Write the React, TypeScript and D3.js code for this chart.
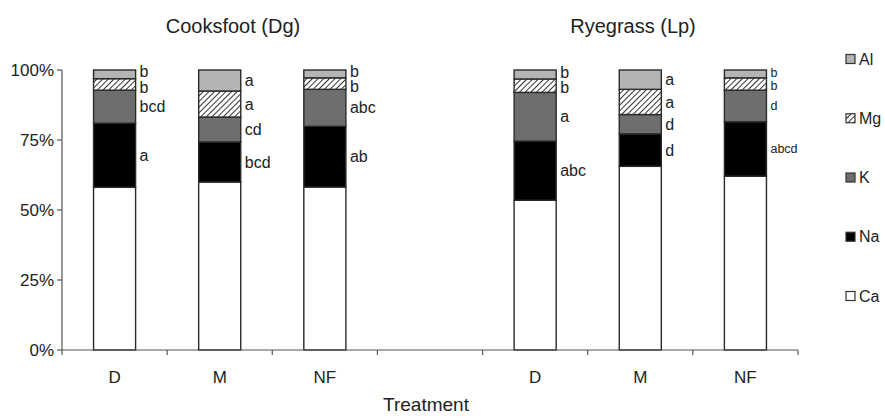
import React from 'react';
import * as d3 from 'd3';

const species = ['Cooksfoot (Dg)', 'Ryegrass (Lp)'];
const treatments = ['D', 'M', 'NF'];
const elements = ['Ca', 'Na', 'K', 'Mg', 'Al'];
const legendOrder = ['Al', 'Mg', 'K', 'Na', 'Ca'];
const yTicks = [0, 25, 50, 75, 100];

// percent of total per bar: Dg D, Dg M, Dg NF, Lp D, Lp M, Lp NF
const caValues = [58.1, 60.0, 58.2, 53.5, 65.6, 62.1];
const naValues = [22.9, 14.3, 21.7, 21.1, 11.6, 19.4];
const kValues = [11.8, 8.9, 13.2, 17.4, 6.9, 11.3];
const mgValues = [4.1, 9.3, 4.1, 4.8, 9.0, 4.4];
const alValues = [3.1, 7.5, 2.8, 3.2, 6.9, 2.8];

const naLetters = ['a', 'bcd', 'ab', 'abc', 'd', 'abcd'];
const kLetters = ['bcd', 'cd', 'abc', 'a', 'd', 'd'];
const mgLetters = ['b', 'a', 'b', 'b', 'a', 'b'];
const alLetters = ['b', 'a', 'b', 'b', 'a', 'b'];

const W = 885;
const H = 418;
const FONT = '"Liberation Sans", Arial, sans-serif';

const fills: Record<string, string> = {
  Ca: '#ffffff',
  Na: '#000000',
  K: '#6e6e6e',
  Mg: 'url(#hatch)',
  Al: '#b4b4b4',
};

export default function App() {
  // slot keys, with one empty slot between the species groups
  const slots = [
    ...treatments.map(t => 'Dg-' + t),
    'gap',
    ...treatments.map(t => 'Lp-' + t),
  ];
  const barKeys = slots.filter(s => s !== 'gap');

  const rows = barKeys.map((key, i) => ({
    key,
    Ca: caValues[i],
    Na: naValues[i],
    K: kValues[i],
    Mg: mgValues[i],
    Al: alValues[i],
    letters: { Na: naLetters[i], K: kLetters[i], Mg: mgLetters[i], Al: alLetters[i] } as Record<string, string>,
  }));

  const x = d3.scaleBand<string>()
    .domain(slots)
    .range([62, 798])
    .paddingInner(0.6)
    .paddingOuter(0.3);

  const y = d3.scaleLinear().domain([0, 100]).range([350, 70]);

  const stack = d3.stack<any>().keys(elements);
  const series = stack(rows);

  const step = x.step();
  const boundaries = d3.range(slots.length + 1).map(i => 62 + i * step);

  const legendY = d3.scalePoint<string>().domain(legendOrder).range([59, 296]);

  // letter labels, nudged apart where segments are thin
  const labels: { x: number; y: number; text: string; size: number }[] = [];
  rows.forEach((row, i) => {
    const items = elements
      .filter(e => e !== 'Ca')
      .map(e => {
        const s = series.find(se => se.key === e)!;
        const d = s[i];
        return { y: (y(d[0]) + y(d[1])) / 2, text: row.letters[e] };
      })
      .sort((a, b) => a.y - b.y);
    const small = row.key === 'Lp-NF';
    const gap = small ? 13 : 15.5;
    for (let k = 1; k < items.length; k++) {
      if (items[k].y - items[k - 1].y < gap) {
        const m = (items[k].y + items[k - 1].y) / 2;
        items[k - 1].y = m - gap / 2;
        items[k].y = m + gap / 2;
      }
    }
    items.forEach(it => labels.push({
      x: x(row.key)! + x.bandwidth() + 4,
      y: it.y,
      text: it.text,
      size: small ? 12.5 : 16,
    }));
  });

  return (
    <svg width={W} height={H} style={{ position: 'absolute', left: 0, top: 0, background: '#fff' }} fontFamily={FONT}>
      <defs>
        <pattern id="hatch" patternUnits="userSpaceOnUse" width={4} height={4} patternTransform="rotate(45)">
          <rect width={4} height={4} fill="#fff" />
          <line x1={0} y1={0} x2={0} y2={4} stroke="#000" strokeWidth={1.6} />
        </pattern>
      </defs>

      {/* titles */}
      <text x={233} y={33} fontSize={20} textAnchor="middle" fill="#222">{species[0]}</text>
      <text x={633} y={33} fontSize={20} textAnchor="middle" fill="#222">{species[1]}</text>

      {/* bars */}
      {series.map(s => (
        <g key={s.key}>
          {s.map((d, i) => (
            <rect
              key={i}
              x={x(rows[i].key)}
              y={y(d[1])}
              width={x.bandwidth()}
              height={y(d[0]) - y(d[1])}
              fill={fills[s.key]}
              stroke="#2a2a2a"
              strokeWidth={1.4}
            />
          ))}
        </g>
      ))}

      {/* letters */}
      {labels.map((l, i) => (
        <text key={i} x={l.x} y={l.y} dy="0.35em" fontSize={l.size} fill="#222">{l.text}</text>
      ))}

      {/* y axis */}
      <line x1={62} x2={62} y1={y(0)} y2={y(100)} stroke="#555" strokeWidth={1.2} />
      {yTicks.map(t => (
        <g key={t}>
          <line x1={57} x2={62} y1={y(t)} y2={y(t)} stroke="#555" strokeWidth={1.2} />
          <text x={54} y={y(t)} dy="0.35em" textAnchor="end" fontSize={17} fill="#222">{t}%</text>
        </g>
      ))}

      {/* x axis */}
      <line x1={62} x2={798} y1={y(0)} y2={y(0)} stroke="#555" strokeWidth={1.2} />
      {boundaries.map((b, i) => (
        <line key={i} x1={b} x2={b} y1={y(0)} y2={y(0) + 5} stroke="#555" strokeWidth={1.2} />
      ))}
      {barKeys.map(k => (
        <text key={k} x={x(k)! + x.bandwidth() / 2} y={383} textAnchor="middle" fontSize={17} fill="#222">
          {k.split('-')[1]}
        </text>
      ))}
      <text x={426} y={411} textAnchor="middle" fontSize={19} fill="#222">Treatment</text>

      {/* legend */}
      {legendOrder.map(e => (
        <g key={e} transform={`translate(846,${legendY(e)})`}>
          <rect x={0} y={-4.5} width={9} height={9} fill={fills[e]} stroke="#333" strokeWidth={1.2} />
          <text x={13} y={0} dy="0.35em" fontSize={16} fill="#222">{e}</text>
        </g>
      ))}
    </svg>
  );
}
